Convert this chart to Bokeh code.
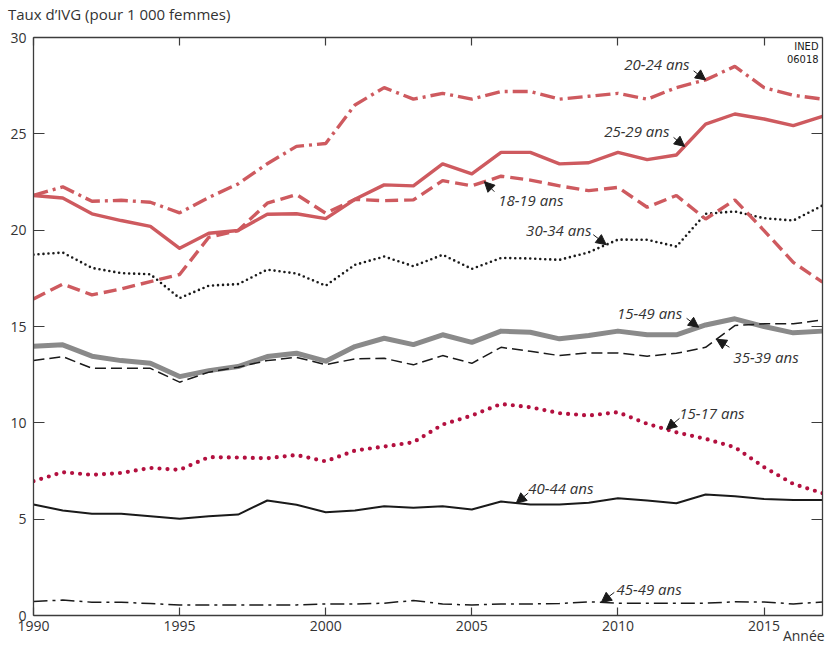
from bokeh.plotting import figure
from bokeh.models import Range1d, LinearAxis, FixedTicker, Label, Arrow, NormalHead
from bokeh.embed import file_html
from bokeh.resources import INLINE
import numpy as np

years = list(range(1990, 2018))

taux_20_24 = [21.8, 22.25, 21.5, 21.55, 21.45, 20.9, 21.7, 22.4, 23.45, 24.35, 24.5, 26.5, 27.4, 26.8,
              27.1, 26.8, 27.2, 27.2, 26.8, 26.95, 27.1, 26.8, 27.4, 27.8, 28.5, 27.4, 27.0, 26.8]
taux_25_29 = [21.8, 21.67, 20.85, 20.5, 20.2, 19.06, 19.84, 19.98, 20.83, 20.85, 20.6, 21.6, 22.35, 22.3,
              23.44, 22.92, 24.04, 24.04, 23.44, 23.5, 24.04, 23.66, 23.9, 25.5, 26.03, 25.77, 25.43, 25.9]
taux_18_19 = [16.43, 17.2, 16.64, 16.95, 17.33, 17.7, 19.63, 19.98, 21.4, 21.85, 20.88, 21.6, 21.53, 21.57,
              22.57, 22.3, 22.8, 22.6, 22.3, 22.05, 22.22, 21.19, 21.8, 20.58, 21.57, 19.98, 18.33, 17.3]
taux_30_34 = [18.73, 18.84, 18.04, 17.77, 17.71, 16.47, 17.12, 17.2, 17.95, 17.75, 17.12, 18.2, 18.63, 18.13,
              18.72, 17.99, 18.56, 18.53, 18.46, 18.85, 19.51, 19.5, 19.15, 20.85, 20.97, 20.62, 20.5, 21.28]
taux_15_49 = [13.98, 14.05, 13.46, 13.23, 13.09, 12.4, 12.71, 12.92, 13.44, 13.61, 13.2, 13.96, 14.39, 14.06,
              14.57, 14.18, 14.76, 14.7, 14.36, 14.53, 14.76, 14.57, 14.57, 15.08, 15.4, 15.0, 14.67, 14.76]
taux_35_39 = [13.23, 13.44, 12.83, 12.83, 12.83, 12.11, 12.63, 12.89, 13.23, 13.4, 13.02, 13.32, 13.35, 13.01,
              13.49, 13.09, 13.92, 13.71, 13.49, 13.63, 13.63, 13.46, 13.61, 13.92, 15.05, 15.14, 15.14, 15.34]
taux_15_17 = [6.97, 7.44, 7.3, 7.4, 7.66, 7.56, 8.22, 8.2, 8.16, 8.33, 8.0, 8.56, 8.77, 8.99,
              9.91, 10.38, 10.98, 10.81, 10.5, 10.38, 10.55, 9.95, 9.51, 9.17, 8.73, 7.7, 6.83, 6.35]
taux_40_44 = [5.76, 5.45, 5.28, 5.28, 5.15, 5.02, 5.15, 5.24, 5.97, 5.75, 5.36, 5.45, 5.67, 5.59,
              5.67, 5.5, 5.92, 5.76, 5.76, 5.85, 6.09, 5.97, 5.83, 6.28, 6.19, 6.05, 6.0, 6.0]
taux_45_49 = [0.73, 0.8, 0.69, 0.69, 0.62, 0.55, 0.54, 0.54, 0.54, 0.55, 0.6, 0.6, 0.64, 0.78,
              0.6, 0.54, 0.6, 0.6, 0.62, 0.71, 0.64, 0.64, 0.64, 0.64, 0.71, 0.7, 0.6, 0.7]

x_ticks = [1990, 1995, 2000, 2005, 2010, 2015]
y_ticks = [0, 5, 10, 15, 20, 25, 30]
TITLE = "Taux d\u2019IVG (pour 1 000 femmes)"
X_TITLE = "Année"

RED = "#CE5A5F"
CRIMSON = "#B3103F"
GREY = "#8A8A8A"
BLACK = "#1a1a1a"
AXIS = "#3c3c3c"
TXT = "#333333"
FONT = "Open Sans"

p = figure(width=828, height=650, output_backend="svg", toolbar_location=None,
           x_range=Range1d(1990, 2017), y_range=Range1d(0, 30),
           min_border_left=33, min_border_right=6, min_border_top=37, min_border_bottom=35)
p.xgrid.visible = False
p.ygrid.visible = False
p.outline_line_color = None
p.background_fill_color = "white"
p.border_fill_color = "white"
p.title.text = ""
p.title.standoff = 0


def style_axis(ax, ticks, tick_in, labels=True):
    ax.ticker = FixedTicker(ticks=ticks)
    ax.minor_tick_line_color = None
    ax.major_tick_in = tick_in
    ax.major_tick_out = 0
    ax.major_tick_line_color = AXIS
    ax.major_tick_line_width = 1.2
    ax.axis_line_color = AXIS
    ax.axis_line_width = 1.3
    if labels:
        ax.major_label_text_font = FONT
        ax.major_label_text_font_size = "14px"
        ax.major_label_text_color = TXT
    else:
        ax.major_label_text_font_size = "0px"
        ax.major_label_text_color = None
        ax.major_label_standoff = 0


style_axis(p.xaxis[0], x_ticks, 8)
p.xaxis[0].major_label_standoff = 5
style_axis(p.yaxis[0], y_ticks, 11)
p.yaxis[0].major_label_standoff = 7

top = LinearAxis()
style_axis(top, x_ticks, 8, labels=False)
p.add_layout(top, "above")
right = LinearAxis()
style_axis(right, y_ticks, 11, labels=False)
p.add_layout(right, "right")


def text_axis(pos, text, standoff, size):
    return LinearAxis(ticker=FixedTicker(ticks=[pos]),
                      major_label_overrides={pos: text},
                      major_tick_in=0, major_tick_out=0, major_tick_line_color=None,
                      minor_tick_line_color=None, axis_line_color=None,
                      major_label_standoff=standoff, major_label_text_font=FONT,
                      major_label_text_font_size=size, major_label_text_color=TXT)


# Unit title at the top-left and "Année" at the bottom-right, carried by label-only axes
p.add_layout(text_axis(1992.93, TITLE, 14, "15px"), "above")
p.add_layout(text_axis(2016.36, X_TITLE, -8, "14px"), "below")

# Lines
p.line(years, taux_15_49, line_color=GREY, line_width=5, line_join="round")
p.line(years, taux_35_39, line_color=BLACK, line_width=1.5, line_dash="11 5")
p.line(years, taux_40_44, line_color=BLACK, line_width=2, line_join="round")
p.line(years, taux_45_49, line_color=BLACK, line_width=1.5, line_dash="14 5 3 5")
p.line(years, taux_30_34, line_color=BLACK, line_width=2.6, line_dash="0 5", line_cap="round")
p.line(years, taux_15_17, line_color=CRIMSON, line_width=4.2, line_dash="0 8", line_cap="round")
p.line(years, taux_18_19, line_color=RED, line_width=3.4, line_dash="13 6")
p.line(years, taux_20_24, line_color=RED, line_width=3.4, line_dash="15 5 3 5")
p.line(years, taux_25_29, line_color=RED, line_width=3.4, line_join="round")

# Annotations: (text, series, text x, text y, align, arrow year, tail offset px dx, dy)
labels = [
    ("20-24 ans", taux_20_24, 2012.45, 28.6, "right", 2013.0, -12, 9),
    ("25-29 ans", taux_25_29, 2011.76, 25.17, "right", 2012.28, -11, 9),
    ("18-19 ans", taux_18_19, 2005.9, 21.59, "left", 2005.43, 10, -10),
    ("30-34 ans", taux_30_34, 2009.09, 20.03, "right", 2009.6, -13, 10),
    ("15-49 ans", taux_15_49, 2012.2, 15.72, "right", 2012.76, -12, 9),
    ("35-39 ans", taux_35_39, 2013.95, 13.44, "left", 2013.37, 13, -8),
    ("15-17 ans", taux_15_17, 2012.1, 10.53, "left", 2011.66, 13, 11),
    ("40-44 ans", taux_40_44, 2006.93, 6.64, "left", 2006.52, 12, 10),
    ("45-49 ans", taux_45_49, 2009.95, 1.4, "left", 2009.43, 13, 10),
]
PX_PER_YEAR = 789 / 27.0
PX_PER_UNIT = 578 / 30.0
for txt, series, tx, ty, align, ay, dx, dy in labels:
    p.add_layout(Label(x=tx, y=ty, text=txt, text_align=align, text_baseline="middle",
                       text_font=FONT, text_font_style="italic", text_font_size="15px",
                       text_color=TXT))
    tip_y = float(np.interp(ay, years, series))
    p.add_layout(Arrow(x_start=ay + dx / PX_PER_YEAR, y_start=tip_y + dy / PX_PER_UNIT,
                       x_end=ay, y_end=tip_y, line_color=BLACK, line_width=1,
                       end=NormalHead(size=10, fill_color=BLACK, line_color=BLACK, line_width=1)))

# Source code mark
p.add_layout(Label(x=785, y=576, x_units="screen", y_units="screen",
                   text="INED\n06018", text_align="right", text_baseline="top",
                   text_font="DejaVu Sans Condensed, Liberation Sans Narrow, Roboto",
                   text_font_size="11px", text_color=BLACK, text_line_height=1.0))

open("out.html", "w").write(file_html(p, INLINE))
